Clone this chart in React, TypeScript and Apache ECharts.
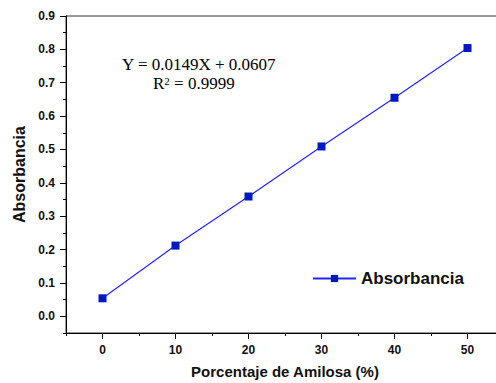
import React, { useEffect, useRef } from "react";
import * as echarts from "echarts";

const amilosa = [0, 10, 20, 30, 40, 50];
const absorbancia = [0.054, 0.212, 0.359, 0.509, 0.655, 0.804];
const xMajorTicks = [0, 10, 20, 30, 40, 50];
const yMajorTicks = [0, 0.1, 0.2, 0.3, 0.4, 0.5, 0.6, 0.7, 0.8, 0.9];
const equationText = "Y = 0.0149X + 0.0607";
const r2Text = "0.9999";

const FONT = "'Liberation Sans', Arial, sans-serif";
const SERIF = "'Liberation Serif', 'Times New Roman', serif";

export default function App() {
  const ref = useRef<HTMLDivElement>(null);
  useEffect(() => {
    if (!ref.current) return;
    const chart = echarts.init(ref.current, null, { renderer: "svg" });
    const axisLineStyle = { color: "#000", width: 1 };
    chart.setOption({
      animation: false,
      backgroundColor: "#fff",
      grid: {
        left: 66,
        top: 16,
        right: 16,
        bottom: 50,
        containLabel: false,
        outerBoundsMode: "none",
        show: true,
        borderColor: "#333",
        borderWidth: 1,
        backgroundColor: "transparent",
      },
      xAxis: [
        {
          type: "value",
          min: -5,
          max: 55,
          name: "Porcentaje de Amilosa (%)",
          nameLocation: "middle",
          nameGap: 31,
          nameTextStyle: { fontFamily: FONT, fontWeight: "bold", fontSize: 15, color: "#111" },
          axisLine: { show: true, onZero: false, lineStyle: axisLineStyle },
          axisTick: { show: true, length: 6, inside: false, customValues: xMajorTicks, lineStyle: axisLineStyle },
          axisLabel: {
            customValues: xMajorTicks,
            fontFamily: FONT,
            fontWeight: "bold",
            fontSize: 12,
            color: "#111",
            margin: 11,
          },
          splitLine: { show: false },
        },
        {
          type: "value",
          position: "bottom",
          min: -5,
          max: 55,
          interval: 10,
          axisLine: { show: false, onZero: false },
          axisTick: { show: true, length: 3, lineStyle: axisLineStyle },
          axisLabel: { show: false },
          splitLine: { show: false },
        },
      ],
      yAxis: [
        {
          type: "value",
          min: -0.05,
          max: 0.9,
          name: "Absorbancia",
          nameLocation: "middle",
          nameGap: 38,
          nameRotate: 90,
          nameTextStyle: { fontFamily: FONT, fontWeight: "bold", fontSize: 16, color: "#111" },
          axisLine: { show: true, onZero: false, lineStyle: axisLineStyle },
          axisTick: { show: true, length: 6, customValues: yMajorTicks, lineStyle: axisLineStyle },
          axisLabel: {
            customValues: yMajorTicks,
            formatter: (v: number) => v.toFixed(1),
            fontFamily: FONT,
            fontWeight: "bold",
            fontSize: 12,
            color: "#111",
            margin: 11,
          },
          splitLine: { show: false },
        },
        {
          type: "value",
          position: "left",
          min: -0.05,
          max: 0.9,
          interval: 0.1,
          axisLine: { show: false, onZero: false },
          axisTick: { show: true, length: 3, lineStyle: axisLineStyle },
          axisLabel: { show: false },
          splitLine: { show: false },
        },
      ],
      legend: {
        left: 312,
        top: 270,
        padding: 0,
        itemWidth: 43,
        itemHeight: 9,
        itemGap: 5,
        textStyle: { fontFamily: FONT, fontWeight: "bold", fontSize: 17, color: "#111" },
        data: ["Absorbancia"],
      },
      series: [
        {
          name: "Absorbancia",
          type: "line",
          xAxisIndex: 0,
          yAxisIndex: 0,
          data: amilosa.map((x, i) => [x, absorbancia[i]]),
          symbol: "rect",
          symbolSize: 8,
          lineStyle: { color: "#2424ff", width: 1.2 },
          itemStyle: { color: "#0018c0" },
        },
      ],
      graphic: [
        {
          type: "text",
          left: 122,
          top: 56,
          style: { text: equationText, font: `17px ${SERIF}`, fill: "#000" },
        },
        {
          type: "text",
          left: 153,
          top: 75,
          style: {
            text: "R{sup|2} = " + r2Text,
            font: `17px ${SERIF}`,
            fill: "#000",
            rich: {
              sup: { fontSize: 11, fontFamily: SERIF, verticalAlign: "top", padding: [0, 0, 6, 0] },
            },
          },
        },
      ],
    });
    return () => chart.dispose();
  }, []);
  return (
    <div style={{ position: "absolute", left: 0, top: 0, width: 496, height: 383, overflow: "hidden" }}>
      <div ref={ref} style={{ width: 520, height: 383 }} />
    </div>
  );
}
